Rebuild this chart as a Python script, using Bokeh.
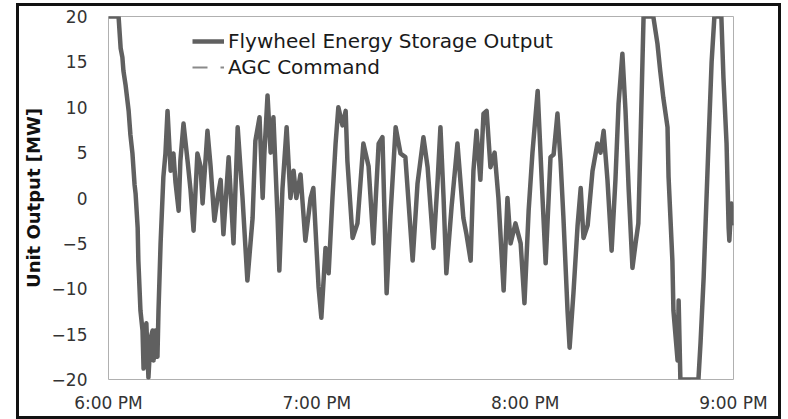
from bokeh.plotting import figure
from bokeh.models import FixedTicker, Range1d, Legend, LegendItem
from bokeh.embed import file_html
from bokeh.resources import INLINE

# Time axis: minutes after 6:00 PM
minutes = [
    0.0, 1.2, 2.9, 3.5, 4.0, 4.3, 4.9, 5.8, 6.3, 6.9, 7.5, 7.8, 8.4, 8.6, 9.2, 9.8,
    10.1, 10.4, 10.9, 11.5, 12.1, 12.7, 13.0, 13.5, 14.1, 14.4, 15.0, 15.8, 16.4,
    17.0, 17.9, 18.7, 19.3, 20.2, 20.7, 21.6, 22.8, 23.6, 24.5, 25.6, 26.5, 27.1,
    28.5, 29.4, 30.5, 31.4, 32.3, 33.1, 34.6, 36.0, 37.2, 38.6, 40.0, 41.5, 42.3,
    43.5, 44.4, 44.9, 45.8, 46.7, 47.5, 48.7, 49.2, 50.1, 51.3, 52.4, 53.3, 54.1,
    55.3, 56.7, 58.2, 59.0, 60.5, 61.3, 62.5, 63.4, 64.5, 65.4, 66.2, 67.4, 68.3,
    68.8, 70.3, 71.7, 73.4, 74.9, 76.3, 77.8, 78.9, 80.1, 81.2, 82.7, 84.1, 85.5,
    87.6, 89.0, 90.7, 91.9, 93.6, 94.8, 95.6, 96.5, 97.3, 98.8, 100.5, 102.2,
    103.1, 104.3, 105.1, 106.0, 107.1, 108.0, 108.9, 110.0, 111.2, 112.3, 113.8,
    114.9, 115.8, 117.2, 118.7, 119.8, 121.0, 122.1, 123.6, 125.0, 125.9, 127.3,
    128.2, 129.3, 130.2, 131.0, 132.2, 132.8, 133.9, 135.1, 136.0, 136.8, 138.0,
    139.4, 140.8, 141.7, 142.6, 143.7, 144.9, 146.0, 146.9, 148.0, 148.9, 149.8,
    150.9, 151.8, 152.6, 153.2, 154.1, 155.5, 156.9, 158.1, 158.9, 159.8, 161.0,
    161.3, 162.4, 162.7, 163.9, 164.2, 164.7, 169.9, 170.5, 171.4, 172.8, 173.7,
    174.5, 176.5, 177.1, 178.0, 178.6, 178.8, 179.4, 180.0,
]

# Flywheel unit output, MW (regulation limited to +/-20 MW)
flywheel_output_mw = [
    20.0, 20.0, 20.0, 16.5, 15.5, 14.0, 12.5, 9.6, 7.0, 4.9, 1.5, 0.5, -3.3, -6.9,
    -12.4, -14.6, -18.8, -15.0, -13.8, -19.8, -15.5, -14.6, -17.9, -14.6, -17.5,
    -12.4, -5.0, 2.3, 4.9, 9.6, 3.0, 4.9, 1.7, -1.4, 4.1, 8.2, 4.0, 1.0, -3.6, 4.9,
    3.5, -0.6, 7.4, 3.5, -2.5, 0.0, 2.0, -4.0, 4.5, -5.0, 7.8, 0.0, -9.1, -2.2,
    6.3, 8.9, 0.0, 5.0, 11.3, 5.0, 8.9, -2.2, -8.0, 1.0, 7.8, 0.0, 3.0, 0.0, 2.6,
    -4.7, 0.0, 1.1, -9.8, -13.2, -5.5, -8.3, 0.0, 6.0, 10.0, 8.0, 9.6, 4.1, -4.4,
    -2.8, 6.0, 3.5, -5.0, 6.0, 6.7, -10.5, -2.0, 7.8, 4.9, 4.5, -6.9, 1.6, 6.7,
    3.4, -5.5, 2.0, 7.8, 0.0, -8.3, -1.0, 6.0, -2.2, -4.0, -6.9, 3.0, 7.4, 2.0,
    9.3, 9.6, 3.4, 5.0, 0.0, -10.2, 0.0, -5.0, -2.8, -5.0, -11.6, -1.4, 5.0, 11.8,
    0.0, -7.2, 4.5, 4.8, 9.3, 4.0, -2.0, -12.4, -16.5, -10.5, -3.0, 1.1, -4.4,
    -3.0, 3.0, 6.0, 5.0, 7.4, 2.0, -5.8, 2.0, 10.4, 15.9, 9.6, 1.0, -7.7, -5.0,
    -2.8, 6.0, 20.0, 20.0, 20.0, 17.0, 14.0, 11.0, 7.8, 2.3, -6.9, -12.4, -17.9,
    -11.3, -20.0, -20.0, -16.0, -8.8, 6.0, 15.0, 20.0, 20.0, 13.3, 6.0, -3.3, -4.7,
    -0.6, -3.0,
]

# AGC regulation command, MW
agc_command_mw = [
    20.0, 20.0, 20.0, 16.5, 15.5, 14.0, 12.5, 9.6, 7.0, 4.9, 1.5, 0.5, -3.3, -6.9,
    -12.4, -14.6, -18.8, -15.0, -13.8, -19.8, -15.5, -14.6, -17.9, -14.6, -17.5,
    -12.4, -5.0, 2.3, 4.9, 9.6, 3.0, 4.9, 1.7, -1.4, 4.1, 8.2, 4.0, 1.0, -3.6, 4.9,
    3.5, -0.6, 7.4, 3.5, -2.5, 0.0, 2.0, -4.0, 4.5, -5.0, 7.8, 0.0, -9.1, -2.2,
    6.3, 8.9, 0.0, 5.0, 11.3, 5.0, 8.9, -2.2, -8.0, 1.0, 7.8, 0.0, 3.0, 0.0, 2.6,
    -4.7, 0.0, 1.1, -9.8, -13.2, -5.5, -8.3, 0.0, 6.0, 10.0, 8.0, 9.6, 4.1, -4.4,
    -2.8, 6.0, 3.5, -5.0, 6.0, 6.7, -10.5, -2.0, 7.8, 4.9, 4.5, -6.9, 1.6, 6.7,
    3.4, -5.5, 2.0, 7.8, 0.0, -8.3, -1.0, 6.0, -2.2, -4.0, -6.9, 3.0, 7.4, 2.0,
    9.3, 9.6, 3.4, 5.0, 0.0, -10.2, 0.0, -5.0, -2.8, -5.0, -11.6, -1.4, 5.0, 11.8,
    0.0, -7.2, 4.5, 4.8, 9.3, 4.0, -2.0, -12.4, -16.5, -10.5, -3.0, 1.1, -4.4,
    -3.0, 3.0, 6.0, 5.0, 7.4, 2.0, -5.8, 2.0, 10.4, 15.9, 9.6, 1.0, -7.7, -5.0,
    -2.8, 6.0, 20.0, 20.0, 20.0, 17.0, 14.0, 11.0, 7.8, 2.3, -6.9, -12.4, -17.9,
    -11.3, -20.0, -20.0, -16.0, -8.8, 6.0, 15.0, 20.0, 20.0, 13.3, 6.0, -3.3, -4.7,
    -0.6, -3.0,
]

hour_ticks = [0, 60, 120, 180]
hour_labels = ["6:00 PM", "7:00 PM", "8:00 PM", "9:00 PM"]
mw_ticks = [-20, -15, -10, -5, 0, 5, 10, 15, 20]

FONT = "DejaVu Sans"

# The black chart frame is an inset shadow on the host element; the canvas
# border area is left transparent so it shows through without resizing anything.
p = figure(
    width=765, height=416,
    output_backend="svg", toolbar_location=None,
    x_range=Range1d(0, 180), y_range=Range1d(-20, 20),
    min_border_left=92, min_border_right=48,
    min_border_top=13, min_border_bottom=40,
    styles={
        "margin-left": "16px",
        "margin-top": "3px",
        "background-color": "white",
        "box-shadow": "inset 0 0 0 3px #111111",
    },
)
p.background_fill_color = "white"
p.border_fill_alpha = 0
p.outline_line_color = "#b0b0b0"
p.outline_line_width = 1
p.grid.grid_line_color = None

# axes: no visible ticks, frame outline only
p.xaxis.ticker = FixedTicker(ticks=hour_ticks)
p.xaxis.major_label_overrides = {t: lab for t, lab in zip(hour_ticks, hour_labels)}
p.yaxis.ticker = FixedTicker(ticks=mw_ticks)
p.yaxis.axis_label = "Unit Output [MW]"
for ax in (p.xaxis[0], p.yaxis[0]):
    ax.axis_line_color = None
    ax.major_tick_line_color = None
    ax.minor_tick_line_color = None
    ax.major_tick_out = 0
    ax.major_tick_in = 0
    ax.minor_tick_out = 0
    ax.minor_tick_in = 0
    ax.major_label_text_font = FONT
    ax.major_label_text_font_size = "17px"
    ax.major_label_text_color = "#333333"
p.xaxis.major_label_standoff = 13
p.yaxis.major_label_standoff = 21
p.yaxis.axis_label_standoff = 5
p.yaxis.axis_label_text_font = FONT
p.yaxis.axis_label_text_font_size = "18px"
p.yaxis.axis_label_text_font_style = "bold"
p.yaxis.axis_label_text_color = "#111111"

# series: the command sits underneath the unit output that tracks it
r_agc = p.line(minutes, agc_command_mw, line_color="#8a8a8a", line_width=2,
               line_dash="15 13 4 13")
r_fly = p.line(minutes, flywheel_output_mw, line_color="#606060", line_width=4.5,
               line_join="round")

legend = Legend(
    items=[
        LegendItem(label="Flywheel Energy Storage Output", renderers=[r_fly]),
        LegendItem(label="AGC Command", renderers=[r_agc]),
    ],
    location=(84, 300),
    orientation="vertical",
    padding=0, margin=0, spacing=2,
    glyph_width=32, glyph_height=20, label_height=20, label_standoff=4,
    label_text_font=FONT, label_text_font_size="20px", label_text_color="#1a1a1a",
    border_line_color=None, background_fill_alpha=0,
)
p.add_layout(legend)

open("out.html", "w").write(file_html(p, INLINE))
